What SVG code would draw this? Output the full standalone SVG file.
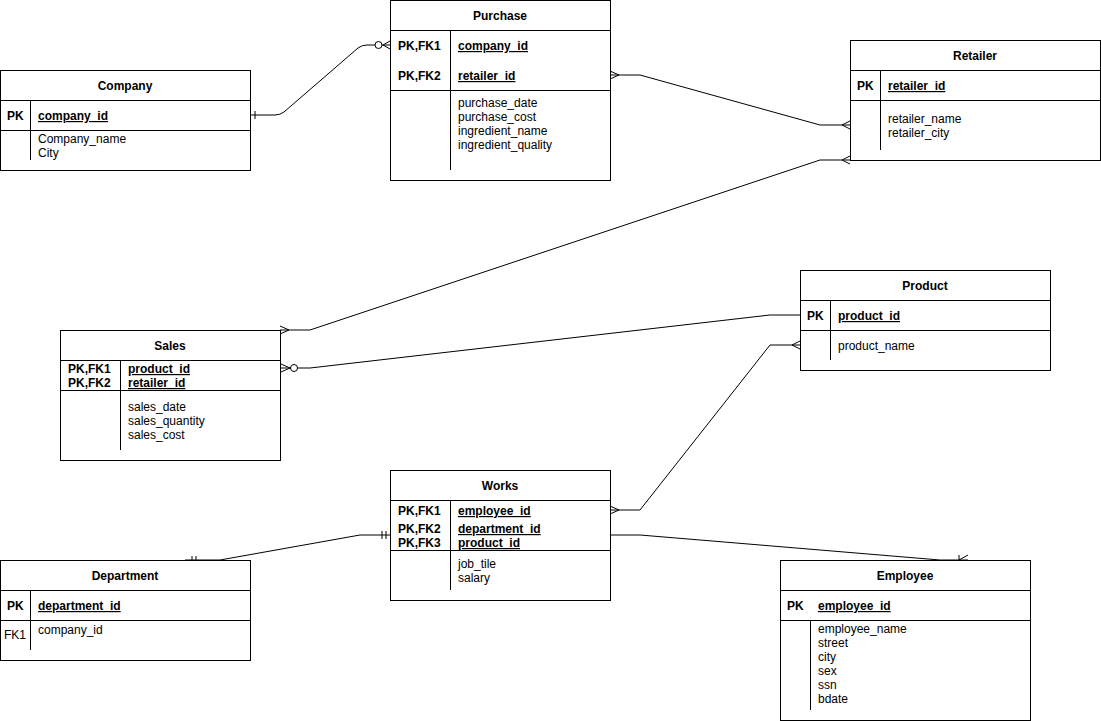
<svg xmlns="http://www.w3.org/2000/svg" width="1101" height="721" viewBox="0 0 1101 721">
<style>
text{font-family:"Liberation Sans",Arial,sans-serif;font-size:12px;fill:#000}
.t{font-weight:bold;text-anchor:middle}
.k{font-weight:bold}
.u{text-decoration:underline}
.box{fill:#fff;stroke:#000;stroke-width:1}
.ln{fill:none;stroke:#000;stroke-width:1}
.e{fill:none;stroke:#000;stroke-width:1}
</style>
<rect width="1101" height="721" fill="#fff"/>
<g id="connectors">
  <!-- Company - Purchase -->
  <path class="e" d="M250,115 H275 Q280,115 284,112 L358,48 Q362,45 367,45 H390"/>
  <line class="e" x1="255" y1="111" x2="255" y2="119"/>
  <circle cx="378.5" cy="45" r="3.5" fill="#fff" stroke="#000"/>
  <path class="e" d="M390,41 L383,45 L390,49"/>
  <!-- Purchase - Retailer -->
  <path class="e" d="M610,75 H640 L820,125 H850"/>
  <path class="e" d="M610,71 L619,75 L610,79"/>
  <path class="e" d="M850,121 L842,125 L850,129"/>
  <!-- Sales - Retailer -->
  <path class="e" d="M280,330 H310 L820,160 H850"/>
  <path class="e" d="M280,326 L289,330 L280,334"/>
  <path class="e" d="M850,156 L842,160 L850,164"/>
  <!-- Sales - Product -->
  <path class="e" d="M280,368 H310 L770,315 H800"/>
  <path class="e" d="M281,364 L290,368 L281,372"/>
  <circle cx="294" cy="368" r="3.5" fill="#fff" stroke="#000"/>
  <!-- Works - Product -->
  <path class="e" d="M610,510 H640 L770,345 H800"/>
  <path class="e" d="M610,506 L619,510 L610,514"/>
  <path class="e" d="M800,341 L792,345 L800,349"/>
  <!-- Works - Employee -->
  <path class="e" d="M610,535 H640 L940,560 H968"/>
  <line class="e" x1="959" y1="555" x2="959" y2="565"/>
  <path class="e" d="M968,555 L959,560 L968,565"/>
  <!-- Works - Department -->
  <path class="e" d="M390,535 H360 L220,560 H185"/>
  <line class="e" x1="382" y1="531" x2="382" y2="539"/>
  <line class="e" x1="386" y1="531" x2="386" y2="539"/>
  <line class="e" x1="192" y1="556" x2="192" y2="564"/>
  <line class="e" x1="196" y1="556" x2="196" y2="564"/>
</g>
<g id="company">
  <rect class="box" x="0.5" y="70.5" width="250" height="100"/>
  <line class="ln" x1="0" y1="100.5" x2="250" y2="100.5"/>
  <line class="ln" x1="0" y1="130.5" x2="250" y2="130.5"/>
  <line class="ln" x1="30.5" y1="100" x2="30.5" y2="160"/>
  <text class="t" x="125" y="90">Company</text>
  <text class="k" x="7" y="120">PK</text>
  <text class="k u" x="38" y="120">company_id</text>
  <text x="38" y="143">Company_name</text>
  <text x="38" y="157">City</text>
</g>
<g id="purchase">
  <rect class="box" x="390.5" y="0.5" width="220" height="180"/>
  <line class="ln" x1="390" y1="30.5" x2="610" y2="30.5"/>
  <line class="ln" x1="390" y1="90.5" x2="610" y2="90.5"/>
  <line class="ln" x1="450.5" y1="30" x2="450.5" y2="170"/>
  <text class="t" x="500" y="20">Purchase</text>
  <text class="k" x="398" y="50">PK,FK1</text>
  <text class="k u" x="458" y="50">company_id</text>
  <text class="k" x="398" y="80">PK,FK2</text>
  <text class="k u" x="458" y="80">retailer_id</text>
  <text x="458" y="107">purchase_date</text>
  <text x="458" y="121">purchase_cost</text>
  <text x="458" y="135">ingredient_name</text>
  <text x="458" y="149">ingredient_quality</text>
</g>
<g id="retailer">
  <rect class="box" x="850.5" y="40.5" width="250" height="120"/>
  <line class="ln" x1="850" y1="70.5" x2="1100" y2="70.5"/>
  <line class="ln" x1="850" y1="100.5" x2="1100" y2="100.5"/>
  <line class="ln" x1="880.5" y1="70" x2="880.5" y2="150"/>
  <text class="t" x="975" y="60">Retailer</text>
  <text class="k" x="857" y="90">PK</text>
  <text class="k u" x="888" y="90">retailer_id</text>
  <text x="888" y="123">retailer_name</text>
  <text x="888" y="137">retailer_city</text>
</g>
<g id="product">
  <rect class="box" x="800.5" y="270.5" width="250" height="100"/>
  <line class="ln" x1="800" y1="300.5" x2="1050" y2="300.5"/>
  <line class="ln" x1="800" y1="330.5" x2="1050" y2="330.5"/>
  <line class="ln" x1="830.5" y1="300" x2="830.5" y2="360"/>
  <text class="t" x="925" y="290">Product</text>
  <text class="k" x="807" y="320">PK</text>
  <text class="k u" x="838" y="320">product_id</text>
  <text x="838" y="350">product_name</text>
</g>
<g id="sales">
  <rect class="box" x="60.5" y="330.5" width="220" height="130"/>
  <line class="ln" x1="60" y1="360.5" x2="280" y2="360.5"/>
  <line class="ln" x1="60" y1="390.5" x2="280" y2="390.5"/>
  <line class="ln" x1="120.5" y1="360" x2="120.5" y2="450"/>
  <text class="t" x="170" y="350">Sales</text>
  <text class="k" x="68" y="373">PK,FK1</text>
  <text class="k u" x="128" y="373">product_id</text>
  <text class="k" x="68" y="387">PK,FK2</text>
  <text class="k u" x="128" y="387">retailer_id</text>
  <text x="128" y="411">sales_date</text>
  <text x="128" y="425">sales_quantity</text>
  <text x="128" y="439">sales_cost</text>
</g>
<g id="works">
  <rect class="box" x="390.5" y="470.5" width="220" height="130"/>
  <line class="ln" x1="390" y1="500.5" x2="610" y2="500.5"/>
  <line class="ln" x1="390" y1="550.5" x2="610" y2="550.5"/>
  <line class="ln" x1="450.5" y1="500" x2="450.5" y2="590"/>
  <text class="t" x="500" y="490">Works</text>
  <text class="k" x="398" y="515">PK,FK1</text>
  <text class="k u" x="458" y="515">employee_id</text>
  <text class="k" x="398" y="533">PK,FK2</text>
  <text class="k u" x="458" y="533">department_id</text>
  <text class="k" x="398" y="547">PK,FK3</text>
  <text class="k u" x="458" y="547">product_id</text>
  <text x="458" y="568">job_tile</text>
  <text x="458" y="582">salary</text>
</g>
<g id="department">
  <rect class="box" x="0.5" y="560.5" width="250" height="100"/>
  <line class="ln" x1="0" y1="590.5" x2="250" y2="590.5"/>
  <line class="ln" x1="0" y1="620.5" x2="250" y2="620.5"/>
  <line class="ln" x1="30.5" y1="590" x2="30.5" y2="650"/>
  <text class="t" x="125" y="580">Department</text>
  <text class="k" x="7" y="610">PK</text>
  <text class="k u" x="38" y="610">department_id</text>
  <text x="4" y="639">FK1</text>
  <text x="38" y="634">company_id</text>
</g>
<g id="employee">
  <rect class="box" x="780.5" y="560.5" width="250" height="160"/>
  <line class="ln" x1="780" y1="590.5" x2="1030" y2="590.5"/>
  <line class="ln" x1="780" y1="620.5" x2="1030" y2="620.5"/>
  <line class="ln" x1="810.5" y1="620" x2="810.5" y2="710"/>
  <text class="t" x="905" y="580">Employee</text>
  <text class="k" x="787" y="610">PK</text>
  <text class="k u" x="818" y="610">employee_id</text>
  <text x="818" y="633">employee_name</text>
  <text x="818" y="647">street</text>
  <text x="818" y="661">city</text>
  <text x="818" y="675">sex</text>
  <text x="818" y="689">ssn</text>
  <text x="818" y="703">bdate</text>
</g>
</svg>
